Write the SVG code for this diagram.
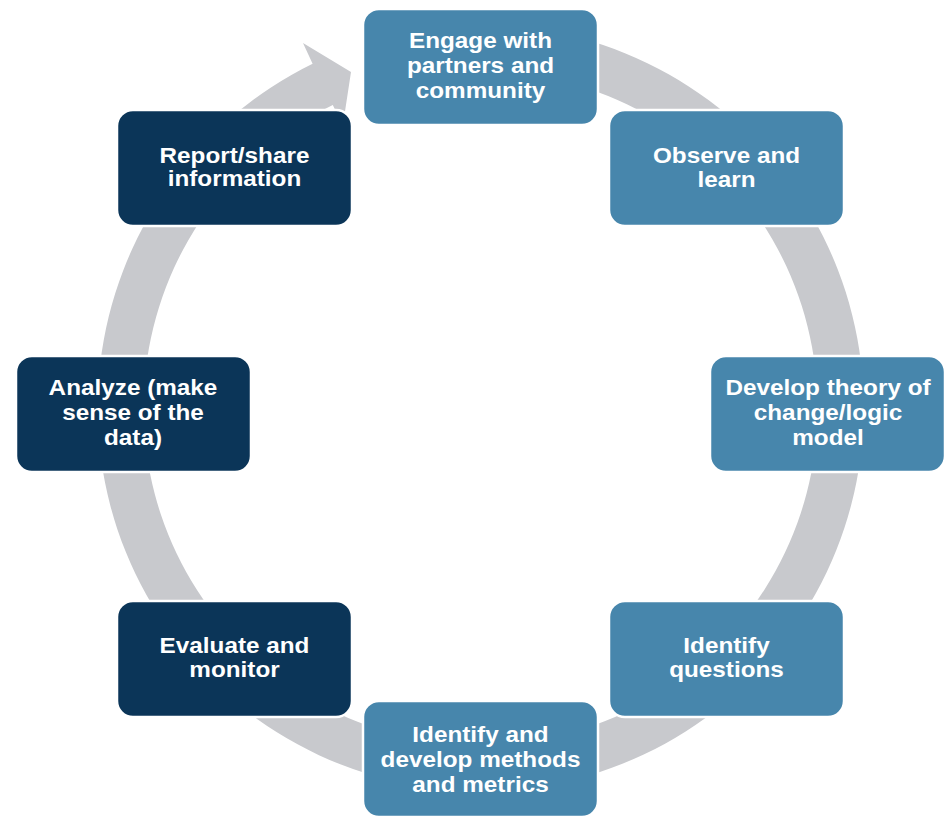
<svg xmlns="http://www.w3.org/2000/svg" width="945" height="817" viewBox="0 0 945 817">
<style>
.box{stroke:#ffffff;stroke-width:2.5}
.light{fill:#4786AC}
.dark{fill:#0B3558}
.lbl{font-family:"Liberation Sans",Arial,sans-serif;font-weight:bold;font-size:21.5px;fill:#ffffff;text-anchor:middle}
.ring{fill:#C8C9CD}
</style>
<rect width="945" height="817" fill="#ffffff"/>
<g id="connectors">
<path class="ring" d="M414.0,30.8 A383,383 0 1 1 312.6,63.8 L303,43 L351,72 L342.8,125.8 L332.8,105.1 A337,337 0 1 0 422.0,76.1 Z"/>
</g>
<g id="n1">
<rect class="box light" x="363" y="9" width="235" height="116" rx="16"/>
<text class="lbl" transform="translate(480.5,0) scale(1.13,1)"><tspan x="0" y="48">Engage with</tspan><tspan x="0" y="73">partners and</tspan><tspan x="0" y="98">community</tspan></text>
</g>
<g id="n2">
<rect class="box light" x="609" y="110" width="235" height="116" rx="16"/>
<text class="lbl" transform="translate(726.5,0) scale(1.13,1)"><tspan x="0" y="163">Observe and</tspan><tspan x="0" y="187">learn</tspan></text>
</g>
<g id="n3">
<rect class="box light" x="710" y="356" width="235" height="116" rx="16"/>
<text class="lbl" transform="translate(828,0) scale(1.13,1)"><tspan x="0" y="395">Develop theory of</tspan><tspan x="0" y="420">change/logic</tspan><tspan x="0" y="445">model</tspan></text>
</g>
<g id="n4">
<rect class="box light" x="609" y="601" width="235" height="116" rx="16"/>
<text class="lbl" transform="translate(726.5,0) scale(1.13,1)"><tspan x="0" y="653">Identify</tspan><tspan x="0" y="677">questions</tspan></text>
</g>
<g id="n5">
<rect class="box light" x="363" y="701" width="235" height="116" rx="16"/>
<text class="lbl" transform="translate(480.5,0) scale(1.13,1)"><tspan x="0" y="742">Identify and</tspan><tspan x="0" y="767">develop methods</tspan><tspan x="0" y="792">and metrics</tspan></text>
</g>
<g id="n6">
<rect class="box dark" x="117" y="601" width="235" height="116" rx="16"/>
<text class="lbl" transform="translate(234.5,0) scale(1.13,1)"><tspan x="0" y="653">Evaluate and</tspan><tspan x="0" y="677">monitor</tspan></text>
</g>
<g id="n7">
<rect class="box dark" x="16" y="356" width="235" height="116" rx="16"/>
<text class="lbl" transform="translate(133,0) scale(1.13,1)"><tspan x="0" y="395">Analyze (make</tspan><tspan x="0" y="420">sense of the</tspan><tspan x="0" y="445">data)</tspan></text>
</g>
<g id="n8">
<rect class="box dark" x="117" y="110" width="235" height="116" rx="16"/>
<text class="lbl" transform="translate(234.5,0) scale(1.13,1)"><tspan x="0" y="163">Report/share</tspan><tspan x="0" y="186">information</tspan></text>
</g>
</svg>
